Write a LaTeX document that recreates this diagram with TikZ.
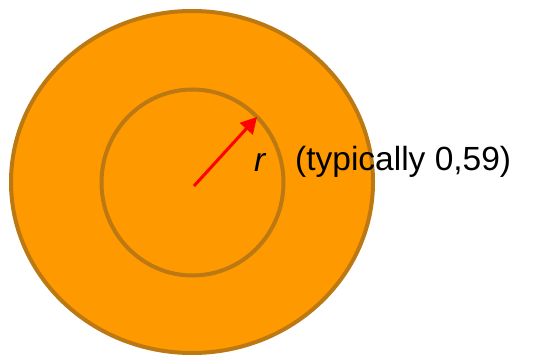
\documentclass[tikz,border=0pt]{standalone}
\usepackage{fontspec}
\setmainfont{Liberation Sans}
\usetikzlibrary{arrows.meta,shapes.geometric}
\definecolor{discfill}{RGB}{255,153,0}
\definecolor{discedge}{RGB}{188,120,18}
\definecolor{arrred}{RGB}{255,0,0}
\tikzset{
  disc/.style={draw=discedge, line width=4pt},
  radarrow/.style={draw=arrred, line width=3pt, -{Triangle[length=16pt,width=17pt]}},
  lbl/.style={font=\fontsize{33.5}{38}\selectfont, inner sep=0pt, anchor=west}
}
\begin{document}
\begin{tikzpicture}[x=1pt,y=-1pt]
\useasboundingbox (0,0) rectangle (534,355);
\node[disc, fill=discfill, ellipse, minimum width=362pt, minimum height=342pt, inner sep=0pt] (outer) at (192,182) {};
\node[disc, ellipse, minimum width=182pt, minimum height=186pt, inner sep=0pt] (inner) at (192.5,182.5) {};
\coordinate (c) at (194,186);
\coordinate (tip) at (257,117);
\draw[radarrow] (c) -- (tip);
\node[lbl] (r) at (254,162) {\itshape r};
\node[lbl] (t) at (295,162) {(typically 0,59)};
\end{tikzpicture}
\end{document}
